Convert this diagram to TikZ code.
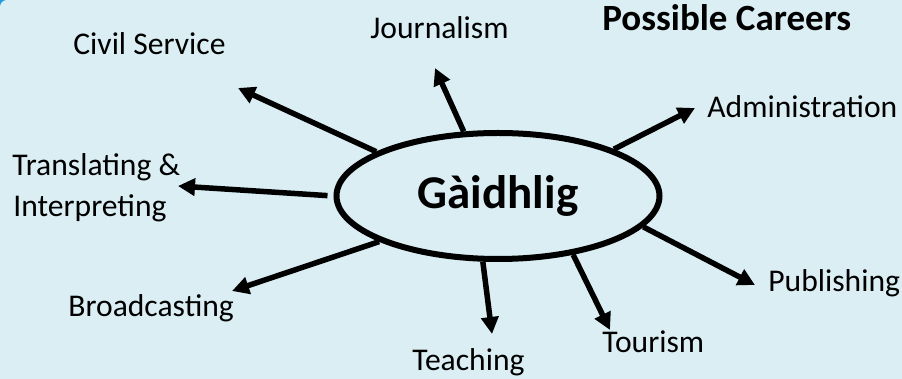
\documentclass[tikz,border=0pt]{standalone}
\usepackage{fontspec}
\setmainfont{Carlito}
\usetikzlibrary{shapes.geometric,arrows.meta}
\definecolor{bgblue}{HTML}{DAEEF3}
\definecolor{cornerblue}{HTML}{1E9BE0}
\begin{document}
\begin{tikzpicture}[x=0.5pt,y=-0.5pt,
  lbl/.style={anchor=base west,inner sep=0pt,font=\fontsize{15.8}{19}\selectfont},
  title/.style={anchor=base west,inner sep=0pt,font=\bfseries\fontsize{18.5}{22}\selectfont},
  arr/.style={line width=2.75pt,-{Triangle[length=8.5pt,width=8.5pt]}},
  hub/.style={ellipse,draw,line width=3pt,minimum width=161.5pt,minimum height=63pt,inner sep=0pt,font=\bfseries\fontsize{23.5}{28}\selectfont}]
\fill[bgblue] (0,0) rectangle (902,379);
\useasboundingbox (0,0) rectangle (902,379);
\fill[cornerblue] (0,0) -- (6,0) .. controls (2,1) and (1,2) .. (0,6) -- cycle;

\node[hub] (g) at (498,196) {Gàidhlig};

\node[title] (pc) at (602,31) {Possible Careers};
\node[lbl] (civil) at (73,55) {Civil Service};
\node[lbl] (journ) at (370,39) {Journalism};
\node[lbl] (admin) at (707,118) {Administration};
\node[lbl] (tr1) at (12,176) {Translating \&};
\node[lbl] (tr2) at (13,217) {Interpreting};
\node[lbl] (broad) at (68,317) {Broadcasting};
\node[lbl] (teach) at (412,371) {Teaching};
\node[lbl] (tour) at (602,353) {Tourism};
\node[lbl] (publ) at (768,292) {Publishing};

\coordinate (tCivil) at (238,88);
\coordinate (tJourn) at (435,68);
\coordinate (tAdmin) at (695,108);
\coordinate (tTrans) at (178,186);
\coordinate (tBroad) at (232,291);
\coordinate (tTeach) at (492,334);
\coordinate (tTour) at (610,330);
\coordinate (tPubl) at (755,285);

\draw[arr] (g.160.4) -- (tCivil);
\draw[arr] (g.118.3) -- (tJourn);
\draw[arr] (g.22.7) -- (tAdmin);
\draw[arr,shorten <=3pt] (g.west) -- (tTrans);
\draw[arr] (g.201.3) -- (tBroad);
\draw[arr] (g.257.6) -- (tTeach);
\draw[arr] (g.322.9) -- (tTour);
\draw[arr] (g.348.6) -- (tPubl);
\end{tikzpicture}
\end{document}
